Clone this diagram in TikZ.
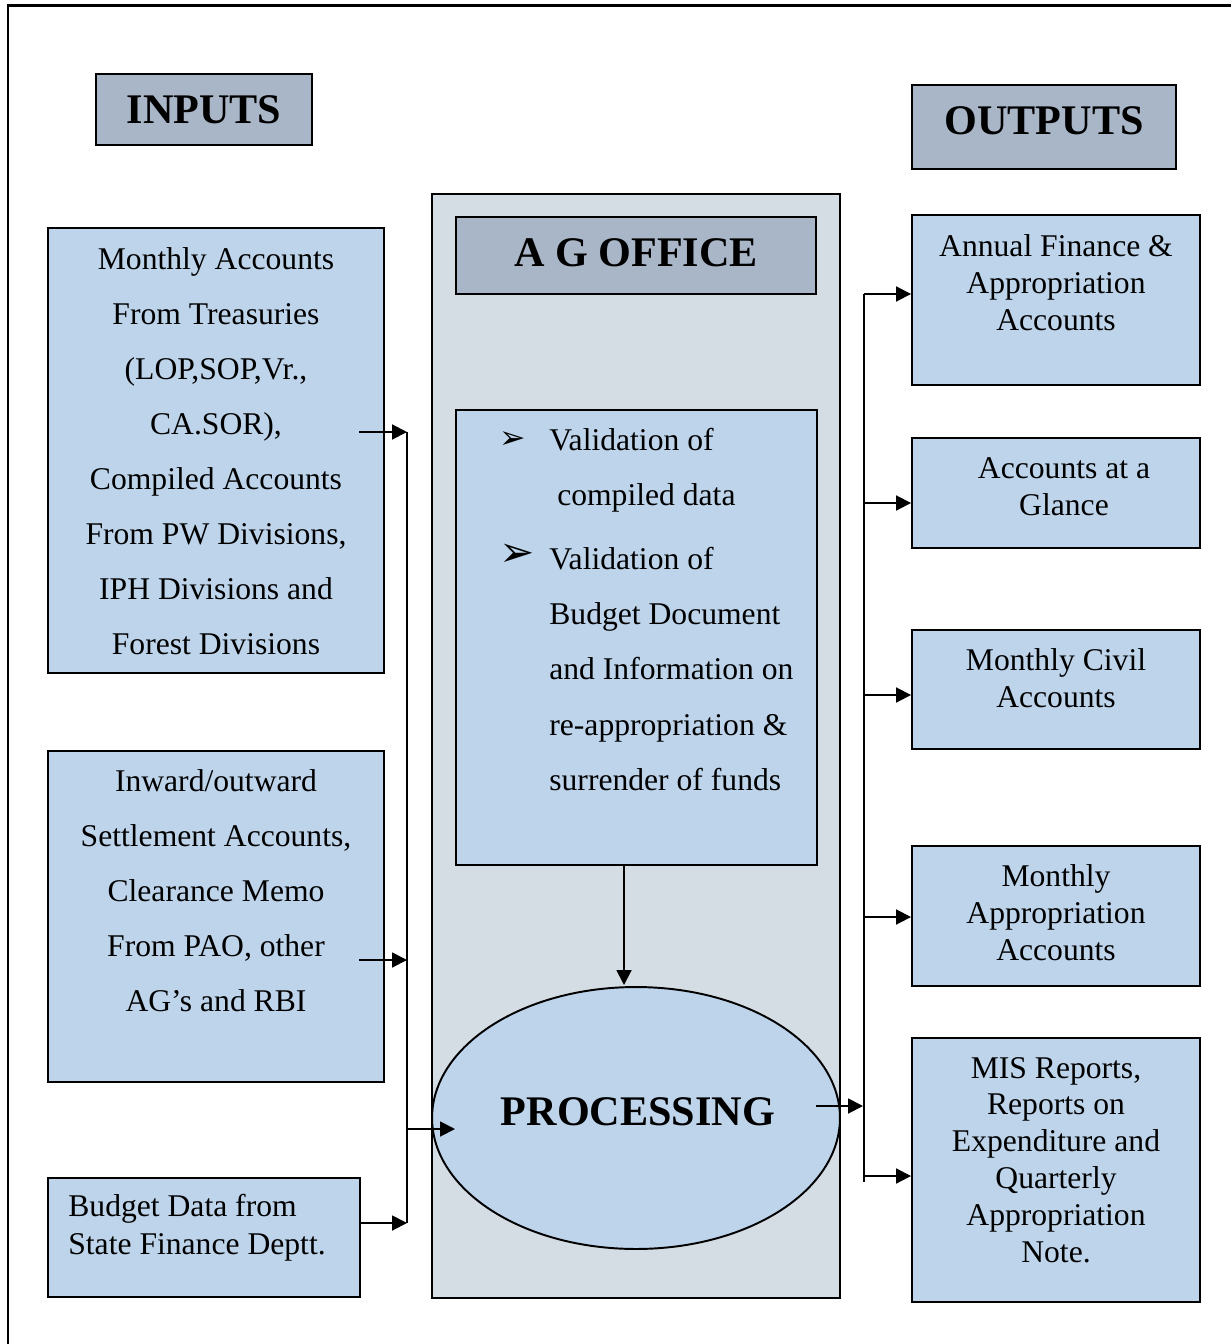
\documentclass[tikz,border=0pt]{standalone}
\usepackage{fontspec}
\setmainfont{Liberation Serif}
\newfontfamily\dingfont{DejaVu Sans}
\usetikzlibrary{arrows.meta,shapes.geometric,fit}

\definecolor{boxblue}{HTML}{BDD4EB}
\definecolor{headgray}{HTML}{A9B6C8}
\definecolor{officegray}{HTML}{D4DCE4}

\tikzset{
  box/.style={draw, line width=1.1pt, fill=boxblue, inner sep=0pt},
  headbox/.style={draw, line width=1.1pt, fill=headgray, inner sep=0pt},
  headtext/.style={inner sep=0pt, font=\fontsize{24}{28}\selectfont\bfseries},
  wide/.style={align=center, inner sep=0pt, font=\fontsize{18}{31.3}\selectfont},
  tight/.style={align=center, inner sep=0pt, font=\fontsize{18}{21}\selectfont},
  arr/.style={-{Triangle[length=8.5pt,width=8.5pt]}, line width=1.1pt}
}

\begin{document}
\begin{tikzpicture}[x=0.02cm, y=-0.02cm]
   \useasboundingbox (0,0) rectangle (1231,1344);
   \draw[line width=1.7pt] (8,1344) -- (8,6) -- (1231,6);

   % headings
   \node(IN)[headbox, fit={(96,74)(312,145)}] {};
   \node(INT)[headtext] at (204,110) {INPUTS};
   \node(OUT)[headbox, fit={(912,85)(1176,169)}] {};
   \node(OUTT)[headtext] at (1044,121) {OUTPUTS};

   % A G office column
   \node(AG)[draw, line width=1.1pt, fill=officegray, inner sep=0pt, fit={(432,194)(840,1298)}] {};
   \node(AGH)[headbox, fit={(456,217)(816,294)}] {};
   \node(AGHT)[headtext] at (636,253) {A G OFFICE};
   \node(VAL)[box, fit={(456,410)(817,865)}] {};
   \node(PR)[ellipse, draw, line width=1.1pt, fill=boxblue, inner sep=0pt,
     minimum width=8.16cm, minimum height=5.24cm] at (636,1118) {};
   \node(PRT)[headtext] at (638,1112) {PROCESSING};

   \node(B1)[font=\fontsize{18}{20}\selectfont\dingfont, inner sep=0pt] at (513,440) {➢};
   \node(B2)[font=\fontsize{24}{26}\selectfont\dingfont, inner sep=0pt] at (517,555) {➢};
   \node(V1)[wide, align=left, anchor=west] at (549,470) {Validation of\\\hspace*{4.5pt}compiled data};
   \node(V2)[wide, align=left, anchor=west, font=\fontsize{18}{31.5}\selectfont] at (549,669)
     {Validation of\\Budget Document\\and Information on\\re-appropriation \&\\surrender of funds};

   % inputs
   \node(IN1)[box, fit={(48,228)(384,673)}] {};
   \node(IN1T)[wide] at (216,451) {Monthly Accounts\\From Treasuries\\(LOP,SOP,Vr.,\\CA.SOR),\\Compiled Accounts\\From PW Divisions,\\IPH Divisions and\\Forest Divisions};
   \node(IN2)[box, fit={(48,751)(384,1082)}] {};
   \node(IN2T)[wide] at (216,891) {Inward/outward\\Settlement Accounts,\\Clearance Memo\\From PAO, other\\AG’s and RBI};
   \node(IN3)[box, fit={(48,1178)(360,1297)}] {};
   \node(IN3T)[tight, align=left, anchor=west, font=\fontsize{18}{21.5}\selectfont] at (68,1228) {Budget Data from\\State Finance Deptt.};

   % outputs
   \node(O1)[box, fit={(912,215)(1200,385)}] {};
   \node(O1T)[tight] at (1056,283) {Annual Finance \&\\Appropriation\\Accounts};
   \node(O2)[box, fit={(912,438)(1200,548)}] {};
   \node(O2T)[tight] at (1064,487) {Accounts at a\\Glance};
   \node(O3)[box, fit={(912,630)(1200,749)}] {};
   \node(O3T)[tight] at (1056,678) {Monthly Civil\\Accounts};
   \node(O4)[box, fit={(912,846)(1200,986)}] {};
   \node(O4T)[tight] at (1056,913) {Monthly\\Appropriation\\Accounts};
   \node(O5)[box, fit={(912,1038)(1200,1302)}] {};
   \node(O5T)[tight] at (1056,1160) {MIS Reports,\\Reports on\\Expenditure and\\Quarterly\\Appropriation\\Note.};

   % input connectors
   \coordinate(s1) at (359,432);
   \coordinate(j1) at (407,432);
   \coordinate(s2) at (359,960);
   \coordinate(j2) at (407,960);
   \coordinate(j3) at (407,1223);
   \coordinate(j4) at (407,1129);
   \coordinate(t4) at (455,1129);
   \draw[line width=1.1pt] (j1) -- (j3);
   \draw[arr] (s1) -- (j1);
   \draw[arr] (s2) -- (j2);
   \draw[arr] (IN3.east |- j3) -- (j3);
   \draw[arr] (j4) -- (t4);

   % validation to processing
   \coordinate(d1) at (624,985);
   \draw[arr] (VAL.south -| d1) -- (d1);

   % output connectors
   \coordinate(p0) at (816,1106);
   \coordinate(p1) at (863,1106);
   \coordinate(q0) at (864,294);
   \coordinate(q1) at (864,1182);
   \draw[arr] (p0) -- (p1);
   \draw[line width=1.1pt] (q0) -- (q1);
   \foreach \o/\y in {O1/294, O2/503, O3/695, O4/917, O5/1176}
     \draw[arr] (864,\y) -- (\o.west |- 864,\y);
\end{tikzpicture}
\end{document}
